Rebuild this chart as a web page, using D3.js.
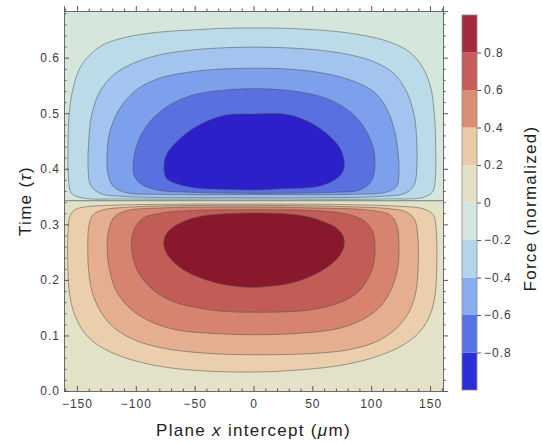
<!DOCTYPE html>
<html>
<head>
<meta charset="utf-8">
<script src="https://cdn.jsdelivr.net/npm/d3@7"></script>
<style>
  body { margin: 0; background: #fff; }
  text { font-family: "Liberation Sans", Arial, sans-serif; }
</style>
</head>
<body>
<div id="chart"></div>
<script>
const WIDTH = 542;
const HEIGHT = 444;
const PLOT = { left: 64, right: 443, top: 11, bottom: 391 };
const BAR = { left: 462, right: 477, top: 15, bottom: 390 };

// axis ticks
const xDomain = [-161, 161];
const yDomain = [0, 0.684];
const xTicks = [-150, -100, -50, 0, 50, 100, 150];
const yTicks = [0, 0.1, 0.2, 0.3, 0.4, 0.5, 0.6];
const barTicks = [-0.8, -0.6, -0.4, -0.2, 0, 0.2, 0.4, 0.6, 0.8];
const barLevels = [-1, -0.8, -0.6, -0.4, -0.2, 0, 0.2, 0.4, 0.6, 0.8, 1];
const barColors = ["#2b2ed8", "#5874e4", "#87acf0", "#b1d5eb", "#d3e5e1",
                   "#e4e0c6", "#ebc9a5", "#dc8e72", "#c85c58", "#a52a3b"];

// where the force changes sign (time)
const zeroTime = 0.3425;
const upperBg = "#d5e6dd";
const lowerBg = "#e3e1c8";

// negative lobe contours, outer to inner: [x (um), time]
const negContours = [
  [[-23,0.653],[0,0.6534],[25,0.653],[54,0.650],[82,0.644],[110,0.632],[130,0.614],[141.5,0.590],[150,0.551],[153.7,0.497],[154.8,0.437],[154.5,0.383],[152.3,0.359],[144.3,0.3486],[110,0.3456],[0,0.3454],[-108,0.3456],[-145,0.3474],[-154.7,0.356],[-157.2,0.383],[-157.6,0.437],[-156.7,0.497],[-153.3,0.545],[-147.6,0.581],[-139,0.605],[-128,0.623],[-108,0.637],[-80,0.646],[-51,0.650]],
  [[-23,0.618],[0,0.619],[25,0.618],[54,0.614],[82,0.605],[102,0.593],[119,0.572],[130,0.539],[136.5,0.497],[138.7,0.449],[138.7,0.401],[136.5,0.371],[128.7,0.356],[105,0.350],[54,0.348],[0,0.348],[-108,0.350],[-130.5,0.356],[-138.5,0.371],[-140.5,0.401],[-140,0.449],[-137.5,0.497],[-130.5,0.539],[-119,0.569],[-102,0.590],[-80,0.605],[-51,0.614]],
  [[-23,0.580],[0,0.581],[25,0.580],[54,0.574],[82,0.560],[102,0.539],[113,0.509],[120,0.467],[123,0.425],[123.5,0.389],[121.5,0.368],[113,0.358],[82,0.354],[0,0.3534],[-80,0.354],[-108,0.357],[-119,0.368],[-123.5,0.389],[-124.5,0.425],[-122,0.467],[-113.5,0.509],[-99.5,0.542],[-80,0.563],[-51,0.575]],
  [[-23,0.542],[0,0.544],[25,0.542],[54,0.532],[73.5,0.515],[88,0.491],[97.5,0.461],[102.5,0.431],[103,0.401],[100,0.377],[90.5,0.362],[68,0.3576],[25,0.3558],[0,0.3556],[-51,0.3576],[-82,0.362],[-96.5,0.374],[-101.5,0.389],[-102,0.413],[-98,0.449],[-88,0.485],[-71,0.515],[-51,0.533]],
  [[-23,0.497],[0,0.4986],[25,0.4986],[40,0.491],[54,0.476],[65,0.458],[73.5,0.437],[77,0.413],[76,0.395],[69,0.380],[54,0.368],[25,0.364],[0,0.362],[-23,0.363],[-46,0.365],[-65,0.373],[-74,0.383],[-76,0.401],[-74,0.425],[-65,0.449],[-51,0.473],[-37,0.488]]
];
const negFills = ["#bbdbe8", "#a2c4ee", "#7da0ed", "#5970e0", "#2b20c9"];

// positive lobe contours, outer to inner
const posContours = [
  [[0,0.3366],[82,0.3354],[124.5,0.3324],[144.3,0.328],[152.8,0.317],[155.1,0.293],[155.7,0.227],[154.3,0.173],[150,0.137],[141.5,0.107],[127.3,0.083],[104.7,0.062],[76.3,0.047],[39.5,0.038],[0,0.0342],[-45.6,0.0365],[-79.6,0.0445],[-108,0.059],[-130.6,0.0805],[-143.4,0.104],[-151.9,0.137],[-156.1,0.173],[-157.8,0.227],[-157.6,0.287],[-156.1,0.314],[-151.9,0.326],[-142,0.3317],[-122,0.3342],[-80,0.336]],
  [[0,0.3342],[82,0.3317],[116,0.328],[130,0.322],[137,0.308],[139.5,0.281],[140,0.227],[138,0.179],[133,0.146],[123,0.116],[107.5,0.092],[85,0.076],[54,0.068],[0,0.0653],[-40,0.068],[-74,0.076],[-99.4,0.0905],[-118,0.113],[-129,0.140],[-136.3,0.173],[-139.7,0.209],[-140.8,0.257],[-139.7,0.299],[-136.3,0.317],[-128,0.326],[-108,0.3306],[-80,0.333]],
  [[0,0.3312],[54,0.3294],[96,0.326],[116,0.317],[121.7,0.299],[123.6,0.263],[122.5,0.221],[117.4,0.185],[109,0.155],[94.7,0.131],[73.5,0.113],[39.5,0.104],[0,0.1013],[-37,0.104],[-65.4,0.110],[-88,0.1255],[-105,0.149],[-116.4,0.179],[-122,0.215],[-124.4,0.257],[-122.7,0.293],[-118,0.314],[-108,0.3245],[-80,0.3294]],
  [[0,0.3263],[54,0.3245],[82,0.317],[94.7,0.305],[101.3,0.287],[103.2,0.263],[102.4,0.233],[97.5,0.203],[87.7,0.176],[70.7,0.157],[48,0.146],[19.6,0.142],[-1,0.1417],[-23,0.143],[-45.6,0.149],[-68.3,0.161],[-85.3,0.182],[-96.6,0.209],[-102.3,0.239],[-103.7,0.269],[-100.9,0.293],[-93.8,0.311],[-79.6,0.320],[-51,0.325]],
  [[-23,0.319],[0,0.3204],[25,0.319],[45,0.314],[59,0.305],[70.7,0.293],[76.3,0.278],[77,0.263],[73.5,0.245],[65,0.227],[51,0.209],[31,0.194],[11,0.188],[-1,0.1866],[-20,0.190],[-40,0.200],[-57,0.215],[-68.3,0.233],[-74.5,0.251],[-76.2,0.269],[-72.5,0.287],[-62.6,0.302],[-45.6,0.314]]
];
const posFills = ["#ebceac", "#e5af8f", "#d7846f", "#c15c57", "#8a182d"];

const fmt = (d, digits) => {
  const s = Math.abs(d).toFixed(digits);
  return d < 0 ? "\u2212" + s : s;
};

const svg = d3.select("#chart").append("svg")
  .attr("width", WIDTH).attr("height", HEIGHT);

const x = d3.scaleLinear().domain(xDomain).range([PLOT.left, PLOT.right]);
const y = d3.scaleLinear().domain(yDomain).range([PLOT.bottom, PLOT.top]);

svg.append("clipPath").attr("id", "plot-clip")
  .append("rect")
  .attr("x", PLOT.left).attr("y", PLOT.top)
  .attr("width", PLOT.right - PLOT.left).attr("height", PLOT.bottom - PLOT.top);

const plot = svg.append("g").attr("clip-path", "url(#plot-clip)");

// the two background bands either side of the zero contour
plot.append("rect")
  .attr("x", x(xDomain[0])).attr("width", x(xDomain[1]) - x(xDomain[0]))
  .attr("y", y(yDomain[1])).attr("height", y(zeroTime) - y(yDomain[1]))
  .attr("fill", upperBg);
plot.append("rect")
  .attr("x", x(xDomain[0])).attr("width", x(xDomain[1]) - x(xDomain[0]))
  .attr("y", y(zeroTime)).attr("height", y(yDomain[0]) - y(zeroTime))
  .attr("fill", lowerBg);

const contour = d3.line()
  .x((d) => x(d[0]))
  .y((d) => y(d[1]))
  .curve(d3.curveCatmullRomClosed.alpha(0.5));

function drawLobe(contours, fills) {
  plot.append("g")
    .selectAll("path")
    .data(contours)
    .join("path")
    .attr("d", contour)
    .attr("fill", (d, i) => fills[i])
    .attr("stroke", "#4a4a4a")
    .attr("stroke-opacity", 0.5)
    .attr("stroke-width", 1);
}
drawLobe(negContours, negFills);
drawLobe(posContours, posFills);

plot.append("line")
  .attr("x1", x(xDomain[0])).attr("x2", x(xDomain[1]))
  .attr("y1", y(zeroTime)).attr("y2", y(zeroTime))
  .attr("stroke", "#6d7f86").attr("stroke-width", 1);

// frame ticks, pointing inward
function styleAxis(g) {
  g.selectAll("path").attr("stroke", "#6a6a6a");
  g.selectAll("line").attr("stroke", "#555");
  g.selectAll("text").attr("fill", "#3a3a3a").attr("font-size", 12)
    .attr("letter-spacing", 1);
}
const xMinor = d3.range(-160, 161, 10).filter((v) => !xTicks.includes(v));
const yMinor = d3.range(0, 0.681, 0.02).filter((v) => Math.abs(v * 10 - Math.round(v * 10)) > 1e-6);

[["bottom", PLOT.bottom], ["top", PLOT.top]].forEach(([side, pos]) => {
  const mk = side === "bottom" ? d3.axisBottom : d3.axisTop;
  const sign = side === "bottom" ? -1 : 1;
  svg.append("g").attr("transform", `translate(0,${pos})`)
    .call(mk(x).tickValues(xMinor).tickSize(sign * 2.5).tickFormat(""))
    .call(styleAxis);
  svg.append("g").attr("transform", `translate(0,${pos})`)
    .call(mk(x).tickValues(xTicks).tickSize(sign * 5).tickPadding(8)
      .tickFormat(side === "bottom" ? (d) => fmt(d, 0) : ""))
    .call(styleAxis);
});
[["left", PLOT.left], ["right", PLOT.right]].forEach(([side, pos]) => {
  const mk = side === "left" ? d3.axisLeft : d3.axisRight;
  const sign = side === "left" ? -1 : 1;
  svg.append("g").attr("transform", `translate(${pos},0)`)
    .call(mk(y).tickValues(yMinor).tickSize(sign * 2.5).tickFormat(""))
    .call(styleAxis);
  svg.append("g").attr("transform", `translate(${pos},0)`)
    .call(mk(y).tickValues(yTicks).tickSize(sign * 5).tickPadding(4)
      .tickFormat(side === "left" ? (d) => fmt(d, 1) : ""))
    .call(styleAxis);
});

// colour bar
const yBar = d3.scaleLinear().domain([-1, 1]).range([BAR.bottom, BAR.top]);
const bands = barColors.map((c, i) => ({ lo: barLevels[i], hi: barLevels[i + 1], c }));
svg.append("g").selectAll("rect")
  .data(bands)
  .join("rect")
  .attr("x", BAR.left).attr("width", BAR.right - BAR.left)
  .attr("y", (d) => yBar(d.hi)).attr("height", (d) => yBar(d.lo) - yBar(d.hi))
  .attr("fill", (d) => d.c);
svg.append("rect")
  .attr("x", BAR.left).attr("y", BAR.top)
  .attr("width", BAR.right - BAR.left).attr("height", BAR.bottom - BAR.top)
  .attr("fill", "none").attr("stroke", "#8a8a8a").attr("stroke-width", 0.8);
svg.append("g").attr("transform", `translate(${BAR.right},0)`)
  .call(d3.axisRight(yBar).tickValues(barTicks).tickSize(4).tickPadding(3)
    .tickFormat((d) => (d === 0 ? "0" : fmt(d, 1))))
  .call(styleAxis)
  .call((g) => g.select(".domain").remove());

// axis titles
const titleSize = 17;
const timeLabel = svg.append("text")
  .attr("transform", `translate(31,${(PLOT.top + PLOT.bottom) / 2}) rotate(-90)`)
  .attr("text-anchor", "middle").attr("font-size", titleSize)
  .attr("letter-spacing", 1.3).attr("fill", "#222");
timeLabel.append("tspan").text("Time (");
timeLabel.append("tspan").attr("font-style", "italic").text("\u03c4");
timeLabel.append("tspan").text(")");

const xLabel = svg.append("text")
  .attr("x", (PLOT.left + PLOT.right) / 2).attr("y", 436)
  .attr("text-anchor", "middle").attr("font-size", titleSize)
  .attr("letter-spacing", 1.3).attr("fill", "#222");
xLabel.append("tspan").text("Plane ");
xLabel.append("tspan").attr("font-style", "italic").text("x");
xLabel.append("tspan").text(" intercept (");
xLabel.append("tspan").attr("font-style", "italic").text("\u03bc");
xLabel.append("tspan").text("m)");

svg.append("text")
  .attr("transform", `translate(536,${(BAR.top + BAR.bottom) / 2 + 6}) rotate(-90)`)
  .attr("text-anchor", "middle").attr("font-size", titleSize)
  .attr("letter-spacing", 1.3).attr("fill", "#222")
  .text("Force (normalized)");
</script>
</body>
</html>
